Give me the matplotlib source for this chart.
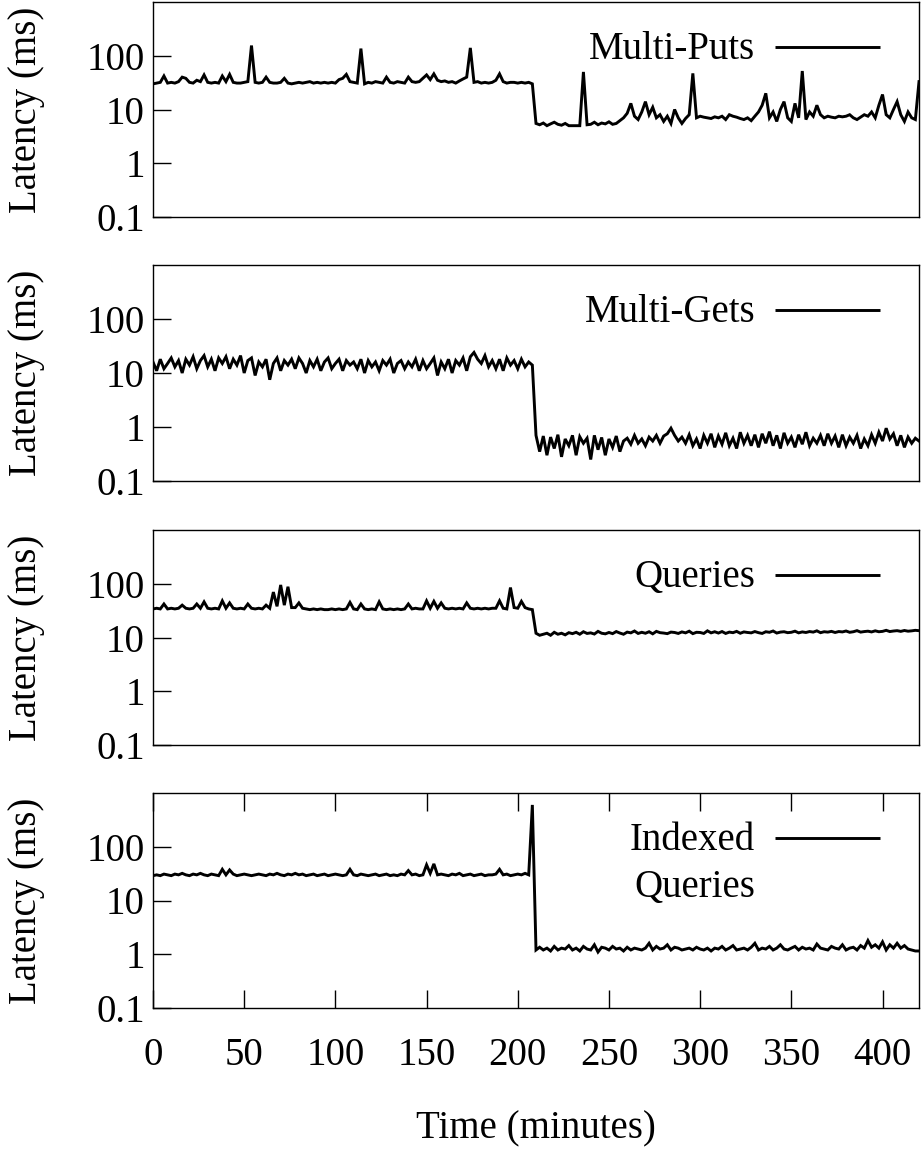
import numpy as np
import matplotlib
matplotlib.use("Agg")
import matplotlib.pyplot as plt

plt.rcParams['font.family'] = ['Liberation Serif', 'DejaVu Serif']
plt.rcParams['mathtext.fontset'] = 'stix'

# ---- data (latency in ms, sampled every 2 minutes, t = 0 .. 420) ----
multi_puts = [
    30, 31, 32, 42, 31, 32, 31, 33, 40, 38,
    32, 31, 35, 33, 44, 32, 31, 32, 31, 42,
    33, 45, 32, 31, 31, 32, 33, 155, 32, 31,
    32, 40, 32, 31, 31, 32, 38, 31, 30, 31,
    32, 31, 32, 33, 31, 32, 31, 32, 31, 32,
    31, 36, 38, 45, 33, 32, 31, 136, 30, 32,
    31, 33, 32, 31, 40, 32, 31, 33, 32, 31,
    40, 33, 32, 33, 38, 44, 36, 46, 35, 33,
    34, 32, 33, 31, 34, 37, 40, 140, 32, 33,
    31, 32, 31, 32, 35, 46, 33, 31, 32, 32,
    31, 32, 31, 32, 30,
    5.5, 5.2, 5.6, 5.0, 5.4, 5.8, 5.3, 5.1, 5.5, 5.0,
    5.0, 5.0, 5.0, 50, 5.2, 5.3, 5.8, 5.2, 5.6, 5.4,
    5.9, 5.3, 5.5, 6.2, 7.0, 8.5, 13, 7.5, 6.5, 9,
    14, 8, 11, 7, 8, 6, 7.5, 5.5, 10, 7,
    5.5, 6.8, 8, 47, 7, 7.5, 7.2, 7, 6.8, 7.3,
    7, 7.5, 6.5, 8, 7.5, 7.2, 6.8, 6.5, 7, 6.2,
    7.5, 9, 12, 20, 7, 9, 6, 10, 14, 7,
    6, 13, 7, 52, 6.5, 9, 7.5, 12, 8, 7,
    7.5, 7.2, 7, 7.5, 7.3, 7.5, 8, 7, 6.5, 7.2,
    8, 7.5, 9, 7, 12, 19, 8, 7, 10, 14,
    8, 6, 9, 7, 6.5, 33,
]

multi_gets = [
    16, 11, 18, 12, 15, 19, 13, 17, 10, 18,
    14, 20, 12, 17, 21, 13, 18, 11, 19, 15,
    20, 12, 18, 14, 21, 10, 17, 19, 9, 16,
    13, 18, 7.5, 15, 19, 11, 17, 14, 18, 12,
    19, 15, 10, 17, 13, 18, 11, 16, 19, 12,
    15, 18, 11, 17, 14, 16, 12, 18, 10, 17,
    13, 16, 11, 17, 14, 18, 10, 15, 17, 12,
    16, 13, 18, 11, 17, 12, 15, 19, 9, 16,
    12, 18, 10, 17, 14, 19, 11, 20, 24, 18,
    15, 21, 13, 17, 12, 18, 11, 19, 14, 17,
    12, 18, 13, 16, 14,
    0.7, 0.35, 0.68, 0.3, 0.65, 0.4, 0.72, 0.28, 0.6, 0.45,
    0.7, 0.3, 0.66, 0.5, 0.62, 0.25, 0.7, 0.38, 0.64, 0.3,
    0.6, 0.42, 0.68, 0.35, 0.55, 0.62, 0.48, 0.7, 0.5, 0.6,
    0.45, 0.65, 0.55, 0.7, 0.5, 0.68, 0.75, 0.95, 0.7, 0.55,
    0.65, 0.5, 0.72, 0.45, 0.6, 0.4, 0.7, 0.5, 0.75, 0.42,
    0.68, 0.48, 0.78, 0.45, 0.62, 0.4, 0.8, 0.5, 0.7, 0.45,
    0.72, 0.42, 0.75, 0.5, 0.82, 0.45, 0.7, 0.4, 0.78, 0.5,
    0.65, 0.42, 0.72, 0.48, 0.8, 0.45, 0.62, 0.5, 0.7, 0.45,
    0.75, 0.5, 0.68, 0.42, 0.72, 0.45, 0.65, 0.5, 0.7, 0.4,
    0.6, 0.45, 0.72, 0.5, 0.8, 0.55, 0.95, 0.6, 0.75, 0.45,
    0.7, 0.42, 0.65, 0.5, 0.62, 0.55,
]

queries = [
    34, 35, 34, 42, 34, 35, 34, 35, 40, 35,
    34, 35, 42, 35, 46, 35, 34, 35, 34, 48,
    35, 44, 35, 34, 35, 34, 42, 35, 34, 35,
    34, 40, 35, 70, 38, 95, 40, 88, 36, 36,
    44, 35, 34, 33, 34, 33, 34, 33, 33, 34,
    33, 34, 33, 34, 45, 34, 33, 42, 34, 33,
    34, 33, 46, 34, 33, 34, 33, 34, 33, 34,
    42, 34, 35, 34, 34, 48, 35, 47, 35, 44,
    35, 34, 35, 34, 35, 34, 44, 35, 34, 35,
    34, 35, 34, 35, 35, 48, 35, 34, 85, 36,
    35, 47, 36, 34, 33,
    12, 11, 11.5, 12, 11, 12.5, 11.5, 12, 11.2, 12.3,
    11.8, 12.5, 11.5, 12.8, 11.9, 12.2, 11.6, 13, 12, 11.7,
    12.4, 11.8, 12.9, 12.1, 11.5, 12.6, 12.2, 13.2, 11.9, 12.5,
    12, 12.8, 11.7, 13, 12.3, 12.1, 11.8, 12.6, 12.4, 11.9,
    12.7, 12.2, 13.1, 11.8, 12.5, 12.4, 11.9, 13.3, 12.2, 12.8,
    12.1, 12.9, 11.9, 12.6, 12.3, 13, 12, 12.7, 12.4, 12.2,
    12.9, 12.3, 11.9, 12.8, 12.5, 13.2, 12.1, 12.6, 12.8, 12.3,
    12.5, 13.1, 12.2, 12.7, 12.4, 12.9, 12.6, 13.3, 12.3, 12.8,
    12.6, 13, 12.4, 12.9, 12.7, 13.2, 12.5, 12.8, 13.4, 12.6,
    12.9, 13.1, 12.7, 13.3, 12.8, 13, 13.6, 12.9, 13.2, 13.4,
    13, 13.5, 13.1, 13.3, 13.6, 13.4,
]

indexed_queries = [
    29, 30, 29, 31, 30, 29, 31, 30, 32, 30,
    29, 31, 30, 32, 30, 29, 31, 30, 29, 38,
    30, 37, 31, 29, 30, 31, 30, 29, 30, 31,
    30, 29, 31, 30, 32, 30, 29, 31, 30, 32,
    30, 31, 29, 30, 31, 29, 30, 31, 29, 30,
    31, 30, 29, 30, 38, 30, 29, 31, 30, 29,
    30, 31, 29, 30, 31, 29, 30, 29, 31, 30,
    36, 30, 31, 29, 30, 46, 32, 48, 30, 31,
    30, 29, 31, 30, 32, 29, 30, 31, 29, 30,
    31, 29, 30, 30, 31, 38, 30, 31, 29, 30,
    31, 30, 32, 30, 600,
    1.2, 1.35, 1.2, 1.3, 1.15, 1.4, 1.2, 1.3, 1.25, 1.45,
    1.2, 1.3, 1.15, 1.4, 1.25, 1.2, 1.5, 1.1, 1.35, 1.3,
    1.2, 1.4, 1.25, 1.3, 1.15, 1.35, 1.2, 1.3, 1.25, 1.2,
    1.3, 1.6, 1.2, 1.4, 1.25, 1.3, 1.5, 1.2, 1.35, 1.3,
    1.2, 1.25, 1.3, 1.2, 1.35, 1.25, 1.2, 1.3, 1.15, 1.3,
    1.25, 1.4, 1.2, 1.3, 1.45, 1.2, 1.25, 1.3, 1.2, 1.35,
    1.6, 1.2, 1.3, 1.25, 1.4, 1.2, 1.3, 1.5, 1.25, 1.2,
    1.3, 1.4, 1.2, 1.35, 1.25, 1.3, 1.2, 1.55, 1.3, 1.25,
    1.2, 1.4, 1.3, 1.25, 1.5, 1.2, 1.3, 1.35, 1.2, 1.45,
    1.3, 1.8, 1.35, 1.5, 1.3, 1.7, 1.2, 1.5, 1.3, 1.6,
    1.3, 1.45, 1.25, 1.2, 1.15, 1.15,
]

series = [multi_puts, multi_gets, queries, indexed_queries]
labels = ["Multi-Puts", "Multi-Gets", "Queries", "Indexed\nQueries"]

y_ticks = [0.1, 1, 10, 100]
y_ticklabels = ["0.1", "1", "10", "100"]
x_ticks = [0, 50, 100, 150, 200, 250, 300, 350, 400]
x_ticklabels = ["0", "50", "100", "150", "200", "250", "300", "350", "400"]

# ---- layout ----
W, H = 924, 1153
fig = plt.figure(figsize=(W / 100, H / 100), dpi=100)

panel_px = [(2, 217), (265, 481), (530, 745), (793, 1008)]
left_px, right_px = 153, 919
FS = 28

for k, (vals, lab) in enumerate(zip(series, labels)):
    top, bot = panel_px[k]
    ax = fig.add_axes([left_px / W, 1 - bot / H, (right_px - left_px) / W, (bot - top) / H])
    t = 2 * np.arange(len(vals))
    ax.plot(t, vals, color='black', lw=2.1, solid_joinstyle='miter')
    ax.set_yscale('log')
    ax.set_ylim(0.1, 1000)
    ax.set_xlim(0, 420)
    ax.minorticks_off()
    ax.set_yticks(y_ticks)
    ax.set_yticklabels(y_ticklabels)
    ax.tick_params(axis='y', direction='in', length=13, width=1.0, labelsize=FS,
                   pad=6, right=False)
    for s in ax.spines.values():
        s.set_linewidth(1.0)
    if k == 3:
        ax.set_xticks(x_ticks)
        ax.set_xticklabels(x_ticklabels)
        ax.tick_params(axis='x', direction='in', length=13, width=1.0, labelsize=FS,
                       pad=21, top=True)
        ax.set_xlabel("Time (minutes)", fontsize=FS, labelpad=26)
    else:
        ax.set_xticks([])
    ax.set_ylabel("Latency (ms)", fontsize=FS)
    ax.yaxis.set_label_coords(-0.141, 0.5)

    # legend: text to the left of the line sample
    ytxt = 0.78
    first = lab.split("\n")
    ax.text(0.786, ytxt, first[0], transform=ax.transAxes, ha='right', va='center',
            fontsize=FS)
    if len(first) > 1:
        ax.text(0.786, 0.56, first[1], transform=ax.transAxes, ha='right', va='center',
                fontsize=FS)
    ax.plot([0.812, 0.949], [ytxt + 0.01, ytxt + 0.01], transform=ax.transAxes,
            color='black', lw=2.1, solid_capstyle='butt')

fig.savefig("out.png", dpi=100)
